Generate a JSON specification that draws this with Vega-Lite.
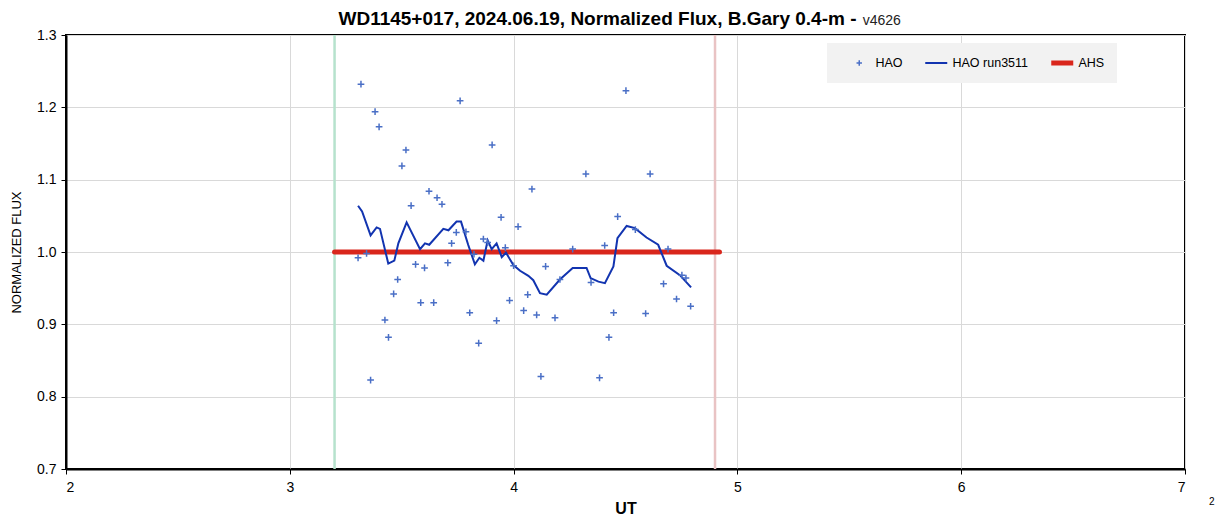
{
  "$schema": "https://vega.github.io/schema/vega-lite/v6.json",
  "width": 1119,
  "height": 434,
  "autosize": "none",
  "padding": {"left": 66, "top": 35, "right": 37, "bottom": 52},
  "background": "white",
  "config": {
    "font": "Liberation Sans",
    "view": {"stroke": "#000000", "strokeWidth": 2},
    "axis": {"labelFont": "Liberation Sans", "titleFont": "Liberation Sans", "labelColor": "#000", "titleColor": "#000", "domainColor": "#000", "tickColor": "#000", "gridColor": "#d9d9d9", "gridWidth": 1}
  },
  "title": {
    "text": "WD1145+017, 2024.06.19, Normalized Flux, B.Gary 0.4-m -",
    "font": "Liberation Sans",
    "fontSize": 19,
    "fontWeight": "bold",
    "color": "#000",
    "anchor": "middle",
    "frame": "group",
    "dx": -28,
    "offset": -15
  },
  "datasets": {
    "hao": [
      {"ut": 3.305, "flux": 0.992, "series": "HAO"},
      {"ut": 3.318, "flux": 1.232, "series": "HAO"},
      {"ut": 3.343, "flux": 0.998, "series": "HAO"},
      {"ut": 3.361, "flux": 0.823, "series": "HAO"},
      {"ut": 3.381, "flux": 1.194, "series": "HAO"},
      {"ut": 3.399, "flux": 1.173, "series": "HAO"},
      {"ut": 3.425, "flux": 0.906, "series": "HAO"},
      {"ut": 3.441, "flux": 0.882, "series": "HAO"},
      {"ut": 3.464, "flux": 0.942, "series": "HAO"},
      {"ut": 3.482, "flux": 0.962, "series": "HAO"},
      {"ut": 3.501, "flux": 1.119, "series": "HAO"},
      {"ut": 3.519, "flux": 1.141, "series": "HAO"},
      {"ut": 3.542, "flux": 1.064, "series": "HAO"},
      {"ut": 3.562, "flux": 0.983, "series": "HAO"},
      {"ut": 3.585, "flux": 0.930, "series": "HAO"},
      {"ut": 3.602, "flux": 0.978, "series": "HAO"},
      {"ut": 3.622, "flux": 1.084, "series": "HAO"},
      {"ut": 3.643, "flux": 0.930, "series": "HAO"},
      {"ut": 3.658, "flux": 1.075, "series": "HAO"},
      {"ut": 3.680, "flux": 1.066, "series": "HAO"},
      {"ut": 3.706, "flux": 0.985, "series": "HAO"},
      {"ut": 3.723, "flux": 1.012, "series": "HAO"},
      {"ut": 3.744, "flux": 1.027, "series": "HAO"},
      {"ut": 3.761, "flux": 1.209, "series": "HAO"},
      {"ut": 3.787, "flux": 1.028, "series": "HAO"},
      {"ut": 3.804, "flux": 0.916, "series": "HAO"},
      {"ut": 3.823, "flux": 0.997, "series": "HAO"},
      {"ut": 3.844, "flux": 0.874, "series": "HAO"},
      {"ut": 3.865, "flux": 1.018, "series": "HAO"},
      {"ut": 3.884, "flux": 1.013, "series": "HAO"},
      {"ut": 3.904, "flux": 1.148, "series": "HAO"},
      {"ut": 3.924, "flux": 0.905, "series": "HAO"},
      {"ut": 3.944, "flux": 1.048, "series": "HAO"},
      {"ut": 3.963, "flux": 1.006, "series": "HAO"},
      {"ut": 3.982, "flux": 0.933, "series": "HAO"},
      {"ut": 4.000, "flux": 0.981, "series": "HAO"},
      {"ut": 4.020, "flux": 1.035, "series": "HAO"},
      {"ut": 4.045, "flux": 0.919, "series": "HAO"},
      {"ut": 4.063, "flux": 0.941, "series": "HAO"},
      {"ut": 4.082, "flux": 1.087, "series": "HAO"},
      {"ut": 4.103, "flux": 0.913, "series": "HAO"},
      {"ut": 4.122, "flux": 0.828, "series": "HAO"},
      {"ut": 4.143, "flux": 0.980, "series": "HAO"},
      {"ut": 4.185, "flux": 0.909, "series": "HAO"},
      {"ut": 4.207, "flux": 0.962, "series": "HAO"},
      {"ut": 4.264, "flux": 1.004, "series": "HAO"},
      {"ut": 4.323, "flux": 1.108, "series": "HAO"},
      {"ut": 4.346, "flux": 0.958, "series": "HAO"},
      {"ut": 4.384, "flux": 0.826, "series": "HAO"},
      {"ut": 4.407, "flux": 1.009, "series": "HAO"},
      {"ut": 4.426, "flux": 0.882, "series": "HAO"},
      {"ut": 4.447, "flux": 0.916, "series": "HAO"},
      {"ut": 4.465, "flux": 1.049, "series": "HAO"},
      {"ut": 4.502, "flux": 1.223, "series": "HAO"},
      {"ut": 4.544, "flux": 1.031, "series": "HAO"},
      {"ut": 4.590, "flux": 0.915, "series": "HAO"},
      {"ut": 4.610, "flux": 1.108, "series": "HAO"},
      {"ut": 4.670, "flux": 0.956, "series": "HAO"},
      {"ut": 4.690, "flux": 1.004, "series": "HAO"},
      {"ut": 4.728, "flux": 0.935, "series": "HAO"},
      {"ut": 4.752, "flux": 0.968, "series": "HAO"},
      {"ut": 4.770, "flux": 0.964, "series": "HAO"},
      {"ut": 4.791, "flux": 0.925, "series": "HAO"}
    ],
    "run": [
      {"ut": 3.305, "flux": 1.064, "series": "HAO run3511"},
      {"ut": 3.323, "flux": 1.056, "series": "HAO run3511"},
      {"ut": 3.361, "flux": 1.023, "series": "HAO run3511"},
      {"ut": 3.388, "flux": 1.034, "series": "HAO run3511"},
      {"ut": 3.403, "flux": 1.032, "series": "HAO run3511"},
      {"ut": 3.440, "flux": 0.984, "series": "HAO run3511"},
      {"ut": 3.467, "flux": 0.988, "series": "HAO run3511"},
      {"ut": 3.485, "flux": 1.012, "series": "HAO run3511"},
      {"ut": 3.522, "flux": 1.041, "series": "HAO run3511"},
      {"ut": 3.582, "flux": 1.004, "series": "HAO run3511"},
      {"ut": 3.604, "flux": 1.012, "series": "HAO run3511"},
      {"ut": 3.623, "flux": 1.010, "series": "HAO run3511"},
      {"ut": 3.686, "flux": 1.032, "series": "HAO run3511"},
      {"ut": 3.709, "flux": 1.030, "series": "HAO run3511"},
      {"ut": 3.745, "flux": 1.042, "series": "HAO run3511"},
      {"ut": 3.765, "flux": 1.042, "series": "HAO run3511"},
      {"ut": 3.797, "flux": 1.010, "series": "HAO run3511"},
      {"ut": 3.827, "flux": 0.983, "series": "HAO run3511"},
      {"ut": 3.847, "flux": 0.992, "series": "HAO run3511"},
      {"ut": 3.865, "flux": 0.988, "series": "HAO run3511"},
      {"ut": 3.884, "flux": 1.016, "series": "HAO run3511"},
      {"ut": 3.902, "flux": 1.004, "series": "HAO run3511"},
      {"ut": 3.924, "flux": 1.012, "series": "HAO run3511"},
      {"ut": 3.947, "flux": 0.993, "series": "HAO run3511"},
      {"ut": 3.966, "flux": 0.999, "series": "HAO run3511"},
      {"ut": 3.999, "flux": 0.982, "series": "HAO run3511"},
      {"ut": 4.029, "flux": 0.974, "series": "HAO run3511"},
      {"ut": 4.066, "flux": 0.967, "series": "HAO run3511"},
      {"ut": 4.088, "flux": 0.961, "series": "HAO run3511"},
      {"ut": 4.118, "flux": 0.943, "series": "HAO run3511"},
      {"ut": 4.148, "flux": 0.941, "series": "HAO run3511"},
      {"ut": 4.207, "flux": 0.962, "series": "HAO run3511"},
      {"ut": 4.264, "flux": 0.978, "series": "HAO run3511"},
      {"ut": 4.326, "flux": 0.978, "series": "HAO run3511"},
      {"ut": 4.344, "flux": 0.964, "series": "HAO run3511"},
      {"ut": 4.379, "flux": 0.959, "series": "HAO run3511"},
      {"ut": 4.408, "flux": 0.957, "series": "HAO run3511"},
      {"ut": 4.446, "flux": 0.980, "series": "HAO run3511"},
      {"ut": 4.464, "flux": 1.019, "series": "HAO run3511"},
      {"ut": 4.505, "flux": 1.036, "series": "HAO run3511"},
      {"ut": 4.542, "flux": 1.033, "series": "HAO run3511"},
      {"ut": 4.594, "flux": 1.020, "series": "HAO run3511"},
      {"ut": 4.646, "flux": 1.010, "series": "HAO run3511"},
      {"ut": 4.684, "flux": 0.981, "series": "HAO run3511"},
      {"ut": 4.743, "flux": 0.968, "series": "HAO run3511"},
      {"ut": 4.793, "flux": 0.951, "series": "HAO run3511"}
    ],
    "ahs": [
      {"ut": 3.2, "flux": 1.0, "series": "AHS"},
      {"ut": 4.92, "flux": 1.0, "series": "AHS"}
    ]
  },
  "layer": [
    {
      "data": {"values": [{"ut": 3.2}]},
      "mark": {"type": "rule", "color": "#b6e2cd", "strokeWidth": 2.5},
      "encoding": {"x": {"field": "ut", "type": "quantitative"}}
    },
    {
      "data": {"values": [{"ut": 4.9}]},
      "mark": {"type": "rule", "color": "#e9c3c4", "strokeWidth": 2.5},
      "encoding": {"x": {"field": "ut", "type": "quantitative"}}
    },
    {
      "data": {"name": "ahs"},
      "mark": {"type": "line", "strokeWidth": 5, "strokeCap": "round"},
      "encoding": {
        "x": {
          "field": "ut", "type": "quantitative",
          "scale": {"domain": [2, 7], "nice": false, "zero": false},
          "axis": {"values": [2, 3, 4, 5, 6, 7], "format": "d", "title": "UT", "titleFontSize": 16, "titleFontWeight": "bold", "labelFontSize": 14, "labelPadding": 6, "tickSize": 5, "domainWidth": 2, "titlePadding": 6, "grid": true}
        },
        "y": {
          "field": "flux", "type": "quantitative",
          "scale": {"domain": [0.7, 1.3], "nice": false, "zero": false},
          "axis": {"values": [0.7, 0.8, 0.9, 1.0, 1.1, 1.2, 1.3], "format": ".1f", "title": "NORMALIZED FLUX", "titleFontSize": 13, "titleFontWeight": "normal", "labelFontSize": 14, "labelPadding": 5, "tickSize": 5, "domainWidth": 2, "titlePadding": 13, "grid": true}
        },
        "color": {
          "field": "series", "type": "nominal",
          "scale": {"domain": ["HAO", "HAO run3511", "AHS"], "range": ["#4a6fc6", "#1234b0", "#d9261c"]},
          "legend": {
            "title": null,
            "orient": "none",
            "legendX": 761,
            "legendY": 8,
            "direction": "horizontal",
            "fillColor": "#f2f2f2",
            "padding": 12,
            "labelFontSize": 12.5,
            "labelColor": "#000",
            "labelFont": "Liberation Sans",
            "labelOffset": 10,
            "columnPadding": 13,
            "symbolOffset": 14,
            "clipHeight": 16,
            "symbolType": "stroke",
            "symbolSize": 484,
            "symbolStrokeWidth": 2,
            "encode": {
              "symbols": {
                "update": {
                  "shape": {"signal": "datum.value === 'HAO' ? 'M-1,0H1M0,-1V1' : 'stroke'"},
                  "size": {"signal": "datum.value === 'HAO' ? 30 : 484"},
                  "strokeWidth": {"signal": "datum.value === 'AHS' ? 5 : (datum.value === 'HAO' ? 1.5 : 2)"},
                  "stroke": {"scale": "color", "field": "value"},
                  "fill": {"value": "transparent"}
                }
              }
            }
          }
        }
      }
    },
    {
      "data": {"name": "run"},
      "mark": {"type": "line", "strokeWidth": 2},
      "encoding": {
        "x": {"field": "ut", "type": "quantitative"},
        "y": {"field": "flux", "type": "quantitative"},
        "color": {"field": "series", "type": "nominal"}
      }
    },
    {
      "data": {"name": "hao"},
      "mark": {"type": "point", "shape": "M-1,0H1M0,-1V1", "filled": false, "size": 45, "strokeWidth": 1.5, "opacity": 1},
      "encoding": {
        "x": {"field": "ut", "type": "quantitative"},
        "y": {"field": "flux", "type": "quantitative"},
        "color": {"field": "series", "type": "nominal"}
      }
    },
    {
      "data": {"values": [{"ut": 5.56, "flux": 1.3, "note": "v4626"}]},
      "mark": {"type": "text", "align": "left", "baseline": "alphabetic", "fontSize": 14, "font": "Liberation Sans", "color": "#222", "dy": -10},
      "encoding": {
        "x": {"field": "ut", "type": "quantitative"},
        "y": {"field": "flux", "type": "quantitative"},
        "text": {"field": "note"}
      }
    },
    {
      "data": {"values": [{"ut": 7.12, "flux": 0.654, "note": "2"}]},
      "mark": {"type": "text", "align": "center", "baseline": "middle", "fontSize": 10, "font": "Liberation Sans", "color": "#000"},
      "encoding": {
        "x": {"field": "ut", "type": "quantitative"},
        "y": {"field": "flux", "type": "quantitative"},
        "text": {"field": "note"}
      }
    }
  ]
}
